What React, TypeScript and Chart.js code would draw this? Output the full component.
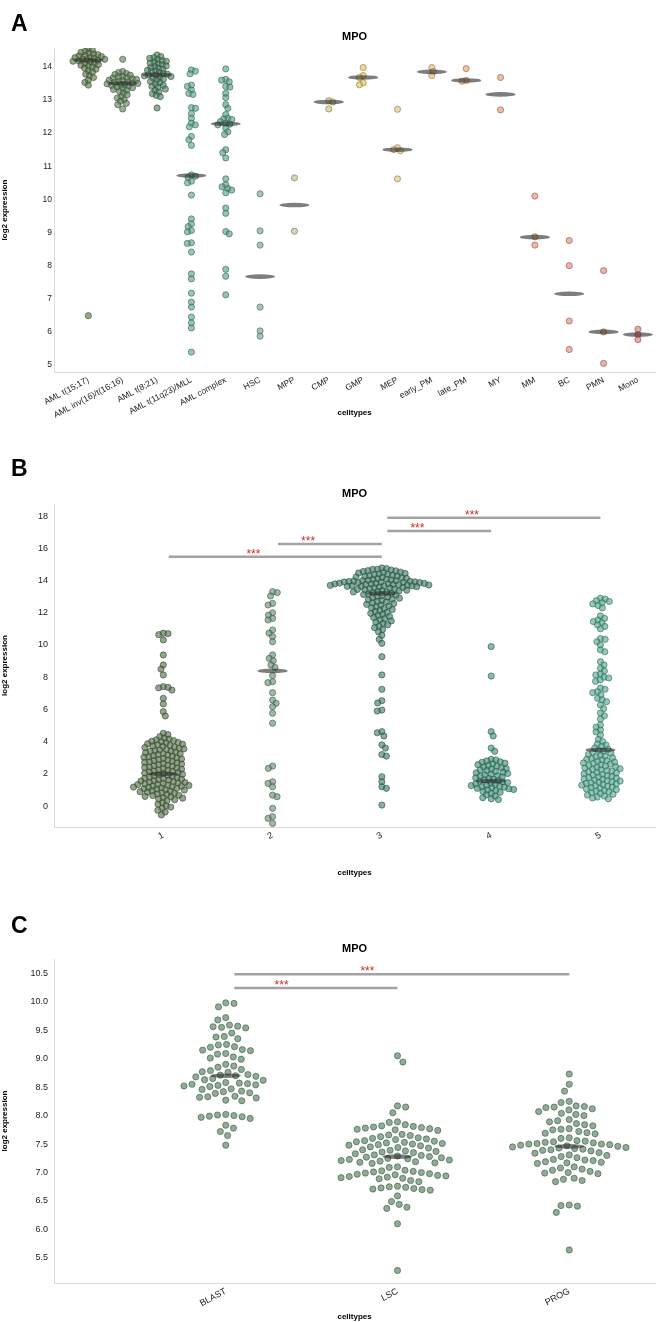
import React, { useEffect, useRef } from 'react';
import { Chart, registerables } from 'chart.js';

Chart.register(...registerables);

const FONT = '"Liberation Sans", Arial, Helvetica, sans-serif';

// ---------------- Panel A data ----------------
const A_CATEGORIES = ['AML t(15;17)', 'AML inv(16)/t(16;16)', 'AML t(8;21)', 'AML t(11q23)/MLL', 'AML complex', 'HSC', 'MPP', 'CMP', 'GMP', 'MEP', 'early_PM', 'late_PM', 'MY', 'MM', 'BC', 'PMN', 'Mono'];
const A_Y_TICKS = [5, 6, 7, 8, 9, 10, 11, 12, 13, 14];
const A_T15_17 = [14.55, 14.51, 14.47, 14.44, 14.41, 14.39, 14.37, 14.34, 14.33, 14.31, 14.29, 14.28, 14.26, 14.24, 14.23, 14.21, 14.2, 14.18, 14.17, 14.15, 14.12, 14.1, 14.07, 14.05, 14.02, 14.0, 13.96, 13.93, 13.88, 13.84, 13.78, 13.73, 13.68, 13.6, 13.53, 13.45, 6.49];
const A_INV16 = [14.23, 13.86, 13.83, 13.8, 13.77, 13.75, 13.71, 13.7, 13.67, 13.66, 13.64, 13.62, 13.6, 13.58, 13.56, 13.55, 13.53, 13.51, 13.5, 13.49, 13.47, 13.45, 13.44, 13.42, 13.39, 13.37, 13.34, 13.32, 13.29, 13.26, 13.21, 13.16, 13.1, 13.06, 13.01, 12.96, 12.9, 12.86, 12.73];
const A_T8_21 = [14.36, 14.31, 14.28, 14.26, 14.22, 14.19, 14.17, 14.14, 14.11, 14.09, 14.06, 14.03, 14.01, 13.98, 13.96, 13.93, 13.9, 13.88, 13.85, 13.83, 13.8, 13.78, 13.76, 13.75, 13.73, 13.71, 13.69, 13.66, 13.63, 13.6, 13.56, 13.52, 13.48, 13.44, 13.41, 13.38, 13.33, 13.29, 13.24, 13.19, 13.14, 13.1, 12.76];
const A_T11Q23 = [13.91, 13.87, 13.79, 13.45, 13.41, 13.3, 13.2, 13.17, 12.77, 12.75, 12.59, 12.45, 12.3, 12.25, 12.19, 11.9, 11.8, 11.63, 10.74, 10.7, 10.66, 10.55, 10.5, 10.13, 9.41, 9.26, 9.18, 9.06, 9.02, 8.69, 8.67, 8.41, 7.75, 7.6, 7.17, 6.9, 6.75, 6.45, 6.27, 6.12, 5.39];
const A_COMPLEX = [13.94, 13.62, 13.6, 13.55, 13.41, 13.39, 13.2, 13.07, 12.86, 12.75, 12.56, 12.45, 12.43, 12.41, 12.35, 12.3, 12.27, 12.25, 12.15, 12.04, 11.96, 11.5, 11.41, 11.25, 10.62, 10.44, 10.38, 10.33, 10.28, 10.2, 9.74, 9.58, 9.03, 8.96, 7.89, 7.68, 7.12];
const A_HSC = [10.17, 9.05, 8.62, 6.75, 6.03, 5.87];
const A_MPP = [10.65, 9.04];
const A_CMP = [12.98, 12.94, 12.73];
const A_GMP = [13.98, 13.74, 13.68, 13.52, 13.46];
const A_MEP = [12.72, 11.56, 11.5, 11.47, 10.62];
const A_EARLY_PM = [13.98, 13.86, 13.74];
const A_LATE_PM = [13.95, 13.59, 13.57];
const A_MY = [13.68, 12.7];
const A_MM = [10.1, 8.87, 8.62];
const A_BC = [8.76, 8.0, 6.33, 5.47];
const A_PMN = [7.85, 6.0, 5.05];
const A_MONO = [6.08, 5.92, 5.77];
const A_MEDIANS = [14.2, 13.5, 13.76, 10.72, 12.28, 7.67, 9.83, 12.94, 13.68, 11.5, 13.85, 13.59, 13.17, 8.86, 7.15, 6.0, 5.92];

// ---------------- Panel B data ----------------
const B_CATEGORIES = ['1', '2', '3', '4', '5'];
const B_Y_TICKS = [0, 2, 4, 6, 8, 10, 12, 14, 16, 18];
const B_1 = [10.73, 10.7, 10.64, 10.31, 9.38, 8.76, 8.5, 8.14, 7.41, 7.37, 7.34, 7.2, 6.69, 6.34, 5.86, 5.59,
  4.52, 4.44, 4.31, 4.22, 4.15, 4.11, 4.06, 4.02, 3.99, 3.95, 3.92, 3.87, 3.84, 3.81, 3.76, 3.73, 3.7, 3.65, 3.63, 3.58, 3.55, 3.51, 3.48, 3.44, 3.41, 3.39, 3.34, 3.31, 3.26, 3.24, 3.2, 3.16, 3.13, 3.1, 3.05, 3.03, 2.99, 2.95, 2.92, 2.88, 2.85, 2.82, 2.78, 2.74, 2.71, 2.68, 2.63, 2.61, 2.57, 2.53, 2.5, 2.47, 2.42, 2.4, 2.36, 2.32, 2.29, 2.25, 2.22, 2.18, 2.15, 2.12, 2.07, 2.05, 2.01, 1.97, 1.94, 1.9, 1.87, 1.83, 1.8, 1.76, 1.73, 1.7, 1.66, 1.64, 1.61, 1.57, 1.55, 1.52, 1.48, 1.46, 1.43, 1.4, 1.38, 1.35, 1.33, 1.3, 1.28, 1.25, 1.23, 1.2, 1.18, 1.15, 1.13, 1.1, 1.07, 1.05, 1.01, 0.99, 0.95, 0.93, 0.89, 0.86, 0.82, 0.79, 0.75, 0.72, 0.67, 0.65, 0.6, 0.57, 0.52, 0.49, 0.44, 0.39, 0.33, 0.21, 0.12, 0.02, -0.06, -0.14, -0.26, -0.37, -0.55];
const B_2 = [13.31, 13.25, 13.04, 12.58, 12.48, 12.0, 11.85, 11.65, 11.55, 10.93, 10.73, 10.52, 10.2, 9.38, 9.17, 9.02, 8.76, 8.6, 8.1, 7.72, 7.66, 7.04, 6.58, 6.38, 6.17, 5.76, 5.14, 2.48, 2.34, 1.51, 1.41, 1.2, 0.68, 0.58, -0.14, -0.66, -0.76, -1.08];
const B_3 = [14.78, 14.74, 14.7, 14.69, 14.65, 14.61, 14.6, 14.56, 14.52, 14.5, 14.47, 14.44, 14.41, 14.38, 14.36, 14.33, 14.3, 14.27, 14.25, 14.22, 14.19, 14.16, 14.14, 14.11, 14.08, 14.06, 14.03, 14.01,
  13.99, 13.98, 13.96, 13.95, 13.94, 13.92, 13.91, 13.9, 13.88, 13.87, 13.86, 13.84, 13.83, 13.82, 13.8, 13.79, 13.78, 13.76, 13.75, 13.74, 13.72, 13.71, 13.7, 13.68, 13.67, 13.66, 13.64, 13.63, 13.62, 13.6,
  13.57, 13.55, 13.52, 13.5, 13.47, 13.45, 13.42, 13.4, 13.37, 13.35, 13.32, 13.29, 13.27, 13.24, 13.21,
  13.17, 13.13, 13.1, 13.06, 13.02, 12.98, 12.93, 12.9, 12.85, 12.8, 12.76, 12.71, 12.67, 12.62, 12.57, 12.52, 12.47, 12.42, 12.37, 12.31, 12.26, 12.2, 12.14, 12.08, 12.02, 11.96, 11.9, 11.83, 11.77, 11.7, 11.63, 11.56, 11.49, 11.41, 11.33, 11.25, 11.16, 11.07, 10.96, 10.82,
  10.6, 10.35, 10.1, 9.27, 8.14, 7.25, 6.54, 6.4, 5.96, 5.9, 4.62, 4.55, 4.35, 3.8, 3.6, 3.2, 3.1, 1.82, 1.51, 1.2, 1.1, 0.06];
const B_4 = [9.9, 8.07, 4.62, 4.35, 3.6, 3.4, 2.9, 2.86, 2.8, 2.75, 2.72, 2.66, 2.62, 2.57, 2.52, 2.48, 2.43, 2.38, 2.33, 2.29, 2.24, 2.2, 2.15, 2.1, 2.06, 2.02, 1.97, 1.93, 1.88, 1.84, 1.8, 1.75, 1.71, 1.66, 1.62, 1.58, 1.54, 1.5, 1.46, 1.42, 1.38, 1.34, 1.3, 1.27, 1.23, 1.2, 1.17, 1.13, 1.1, 1.07, 1.03, 1.0, 0.95, 0.9, 0.85, 0.78, 0.7, 0.62, 0.52, 0.45, 0.4];
const B_5 = [12.9, 12.85, 12.75, 12.7, 12.62, 12.55, 12.45, 12.3, 11.8, 11.65, 11.55, 11.45, 11.38, 11.24, 11.15, 11.0, 10.4, 10.35, 10.2, 10.0, 9.7, 9.58, 8.96, 8.76, 8.55, 8.38, 8.2, 8.14, 8.0, 7.95, 7.83, 7.74, 7.33, 7.25, 7.1, 7.04, 6.9, 6.69, 6.6, 6.48, 6.27, 6.05, 5.77, 5.6, 5.4, 5.03, 4.9, 4.72, 4.6, 4.41,
  4.14, 4.0, 3.85, 3.79, 3.7, 3.6, 3.52, 3.45, 3.4, 3.33, 3.28, 3.2, 3.14, 3.1, 3.05, 3.0, 2.95, 2.9, 2.86, 2.81, 2.77, 2.73, 2.68, 2.64, 2.6, 2.56, 2.52, 2.48, 2.44, 2.4, 2.36, 2.32, 2.28, 2.24, 2.2, 2.16, 2.12, 2.08, 2.04, 2.0, 1.96, 1.92, 1.88, 1.84, 1.8, 1.77, 1.73, 1.69, 1.65, 1.62, 1.58, 1.55, 1.51, 1.47, 1.44, 1.41, 1.37, 1.33, 1.3, 1.26, 1.22, 1.18, 1.14, 1.1, 1.06, 1.02, 0.97, 0.93, 0.88, 0.83, 0.78, 0.73, 0.68, 0.62, 0.56, 0.5, 0.45];
const B_MEDIANS = [2.0, 8.39, 13.2, 1.55, 3.48];
const B_BRACKET_FROM = [0, 1, 2, 2];
const B_BRACKET_TO = [2, 2, 3, 4];
const B_BRACKET_LEVEL = [15.47, 16.27, 17.08, 17.89];
const B_BRACKET_LABEL = ['***', '***', '***', '***'];

// ---------------- Panel C data ----------------
const C_CATEGORIES = ['BLAST', 'LSC', 'PROG'];
const C_Y_TICKS = [5.5, 6.0, 6.5, 7.0, 7.5, 8.0, 8.5, 9.0, 9.5, 10.0, 10.5];
const C_BLAST = [9.98, 9.97, 9.91, 9.72, 9.68, 9.59, 9.57, 9.56, 9.55, 9.54, 9.45, 9.39, 9.38, 9.35, 9.25, 9.24, 9.21, 9.2, 9.16, 9.15, 9.14, 9.09, 9.08, 9.03, 9.01, 8.99, 8.9, 8.87, 8.85, 8.81, 8.79, 8.77, 8.76, 8.72, 8.71, 8.7, 8.69, 8.68, 8.65, 8.63, 8.62, 8.58, 8.57, 8.56, 8.55, 8.54, 8.53, 8.52, 8.51, 8.47, 8.46, 8.43, 8.42, 8.4, 8.39, 8.34, 8.33, 8.32, 8.31, 8.27, 8.26, 8.02, 8.01, 8.0, 7.99, 7.98, 7.97, 7.95, 7.83, 7.78, 7.72, 7.65, 7.48];
const C_LSC = [9.05, 8.94, 8.17, 8.15, 8.05, 7.89, 7.88, 7.84, 7.82, 7.81, 7.8, 7.79, 7.78, 7.77, 7.76, 7.75, 7.74, 7.67, 7.66, 7.65, 7.63, 7.61, 7.6, 7.59, 7.58, 7.56, 7.55, 7.54, 7.53, 7.52, 7.51, 7.5, 7.49, 7.48, 7.47, 7.45, 7.44, 7.43, 7.4, 7.39, 7.38, 7.37, 7.36, 7.35, 7.33, 7.31, 7.3, 7.29, 7.28, 7.27, 7.26, 7.25, 7.24, 7.23, 7.22, 7.21, 7.2, 7.19, 7.18, 7.17, 7.16, 7.1, 7.09, 7.04, 7.03, 7.02, 7.01, 7.0, 6.99, 6.98, 6.97, 6.96, 6.95, 6.94, 6.93, 6.92, 6.91, 6.9, 6.89, 6.86, 6.84, 6.76, 6.75, 6.74, 6.73, 6.72, 6.71, 6.7, 6.69, 6.59, 6.49, 6.44, 6.39, 6.37, 6.1, 5.28];
const C_PROG = [8.73, 8.55, 8.43, 8.25, 8.23, 8.17, 8.16, 8.15, 8.14, 8.12, 8.1, 8.07, 8.04, 8.02, 8.0, 7.93, 7.91, 7.89, 7.86, 7.84, 7.82, 7.77, 7.76, 7.75, 7.72, 7.7, 7.69, 7.68, 7.61, 7.6, 7.56, 7.55, 7.54, 7.53, 7.52, 7.51, 7.5, 7.5, 7.49, 7.48, 7.47, 7.46, 7.45, 7.44, 7.43, 7.42, 7.41, 7.4, 7.39, 7.38, 7.35, 7.34, 7.31, 7.3, 7.28, 7.26, 7.23, 7.22, 7.21, 7.19, 7.18, 7.17, 7.16, 7.1, 7.08, 7.06, 7.04, 7.02, 7.0, 6.99, 6.98, 6.9, 6.88, 6.86, 6.84, 6.43, 6.42, 6.41, 6.3, 5.64];
const C_MEDIANS = [8.7, 7.28, 7.46];
const C_BRACKET_FROM = [0, 0];
const C_BRACKET_TO = [2, 1];
const C_BRACKET_LEVEL = [10.48, 10.24];
const C_BRACKET_LABEL = ['***', '***'];

// ---------------- styles ----------------
const A_COLORS: number[][] = [
  [88, 118, 72], [92, 128, 88], [76, 126, 96], [88, 162, 138], [82, 156, 132], [112, 162, 138],
  [172, 196, 140], [202, 192, 112], [226, 196, 92], [226, 192, 122], [232, 182, 122], [228, 162, 106],
  [226, 148, 112], [226, 142, 112], [222, 136, 116], [222, 130, 116], [220, 116, 110],
];
const B_COLORS: number[][] = [[84, 112, 74], [102, 142, 112], [62, 122, 98], [62, 142, 118], [82, 166, 142]];
const C_COLORS: number[][] = [[100, 140, 108], [100, 140, 108], [100, 140, 108]];

type PanelCfg = {
  top: number;
  height: number;
  plotTop: number;
  plotBottom: number;
  titleCenter: number;
  xTitleY: number;
  categories: string[];
  series: number[][];
  medians: number[];
  colors: number[][];
  yMin: number;
  yMax: number;
  yTicks: number[];
  yDecimals: number;
  yTickSize: number;
  yTickPad: number;
  xTickSize: number;
  swarmD: number;
  alpha: number;
  from: number[];
  to: number[];
  level: number[];
  labels: string[];
};

const PANELS: PanelCfg[] = [
  {
    top: 0, height: 440, plotTop: 48, plotBottom: 372, titleCenter: 37, xTitleY: 413,
    categories: A_CATEGORIES,
    series: [A_T15_17, A_INV16, A_T8_21, A_T11Q23, A_COMPLEX, A_HSC, A_MPP, A_CMP, A_GMP, A_MEP, A_EARLY_PM, A_LATE_PM, A_MY, A_MM, A_BC, A_PMN, A_MONO],
    medians: A_MEDIANS, colors: A_COLORS, yMin: 4.79, yMax: 14.57, yTicks: A_Y_TICKS, yDecimals: 0,
    yTickSize: 8.5, yTickPad: 2, xTickSize: 8.5, swarmD: 4.2, alpha: 0.62,
    from: [], to: [], level: [], labels: [],
  },
  {
    top: 440, height: 440, plotTop: 64, plotBottom: 387, titleCenter: 54, xTitleY: 433,
    categories: B_CATEGORIES,
    series: [B_1, B_2, B_3, B_4, B_5],
    medians: B_MEDIANS, colors: B_COLORS, yMin: -1.3, yMax: 18.75, yTicks: B_Y_TICKS, yDecimals: 0,
    yTickSize: 9, yTickPad: 6, xTickSize: 9, swarmD: 4.8, alpha: 0.62,
    from: B_BRACKET_FROM, to: B_BRACKET_TO, level: B_BRACKET_LEVEL, labels: B_BRACKET_LABEL,
  },
  {
    top: 880, height: 442, plotTop: 79, plotBottom: 403, titleCenter: 69, xTitleY: 437,
    categories: C_CATEGORIES,
    series: [C_BLAST, C_LSC, C_PROG],
    medians: C_MEDIANS, colors: C_COLORS, yMin: 5.06, yMax: 10.75, yTicks: C_Y_TICKS, yDecimals: 1,
    yTickSize: 9, yTickPad: 6, xTickSize: 9, swarmD: 8.3, alpha: 0.72,
    from: C_BRACKET_FROM, to: C_BRACKET_TO, level: C_BRACKET_LEVEL, labels: C_BRACKET_LABEL,
  },
];

const WIDTH = 659;
const Y_AXIS_W = 54;

function swarm(values: number[], pxY: number, pxX: number, d: number): number[] {
  const order = values.map((_, i) => i).sort((a, b) => values[b] - values[a]);
  const placed: { x: number; y: number }[] = [];
  const res = new Array(values.length).fill(0);
  let flip = false;
  for (const i of order) {
    const y = values[i] * pxY;
    const near = placed.filter((p) => Math.abs(p.y - y) < d);
    const cands: number[] = [0];
    for (const p of near) {
      const dx = Math.sqrt(Math.max(d * d - (p.y - y) ** 2, 0)) + 0.01;
      cands.push(p.x + dx, p.x - dx);
    }
    cands.sort((a, b) => Math.abs(a) - Math.abs(b) || (flip ? b - a : a - b));
    let best = 0;
    for (const c of cands) {
      if (near.every((p) => (p.x - c) ** 2 + (p.y - y) ** 2 >= d * d - 1e-6)) {
        best = c;
        break;
      }
    }
    flip = !flip;
    placed.push({ x: best, y });
    res[i] = best / pxX;
  }
  return res;
}

const rgba = (c: number[], a: number) => `rgba(${c[0]},${c[1]},${c[2]},${a})`;
const darker = (c: number[]) => c.map((v) => Math.round(v * 0.6));

function buildConfig(p: PanelCfg): any {
  const n = p.categories.length;
  const xMin = -1;
  const xMax = n - 0.5;
  const plotH = p.plotBottom - p.plotTop;
  const pxY = plotH / (p.yMax - p.yMin);
  const pxX = (WIDTH - Y_AXIS_W) / (xMax - xMin);
  const titleFont = 11;
  const titleLH = titleFont * 1.2;
  const padTop = p.titleCenter - titleLH / 2;
  const padBottom = p.plotTop - p.titleCenter - titleLH / 2;
  const axisTitleLH = 8 * 1.2;

  const datasets = p.series.map((vals, i) => {
    const off = swarm(vals, pxY, pxX, p.swarmD);
    return {
      data: vals.map((v, k) => ({ x: i + off[k], y: v })),
      backgroundColor: rgba(p.colors[i], p.alpha),
      borderColor: rgba(darker(p.colors[i]), 0.75),
      borderWidth: 0.8,
      pointRadius: 3.1,
      pointHoverRadius: 3.1,
    };
  });

  const overlay = {
    id: 'overlay',
    afterDatasetsDraw(chart: any) {
      const { ctx, scales } = chart;
      const xs = scales.x;
      const ys = scales.y;
      ctx.save();
      p.medians.forEach((m, i) => {
        const px = xs.getPixelForValue(i);
        const py = ys.getPixelForValue(m);
        ctx.beginPath();
        ctx.ellipse(px, py, 15, 2.3, 0, 0, Math.PI * 2);
        ctx.fillStyle = 'rgba(45,45,45,0.62)';
        ctx.fill();
      });
      const catW = xs.getPixelForValue(1) - xs.getPixelForValue(0);
      p.level.forEach((lv, k) => {
        const py = ys.getPixelForValue(lv);
        const x1 = xs.getPixelForValue(p.from[k]) + 0.05 * catW;
        const x2 = xs.getPixelForValue(p.to[k]);
        ctx.beginPath();
        ctx.moveTo(x1, py);
        ctx.lineTo(x2, py);
        ctx.strokeStyle = '#a3a3a3';
        ctx.lineWidth = 2.5;
        ctx.stroke();
        ctx.fillStyle = '#cc2a2a';
        ctx.font = `12px ${FONT}`;
        ctx.textAlign = 'center';
        ctx.textBaseline = 'alphabetic';
        ctx.fillText(p.labels[k], (x1 + x2) / 2 - 0.2 * catW, py + 1);
      });
      ctx.restore();
    },
  };

  return {
    type: 'scatter',
    data: { datasets },
    options: {
      responsive: false,
      animation: false,
      events: [],
      layout: { padding: 0 },
      plugins: {
        legend: { display: false },
        tooltip: { enabled: false },
        title: {
          display: true,
          text: 'MPO',
          fullSize: false,
          color: '#000',
          font: { family: FONT, size: titleFont, weight: 'bold', lineHeight: 1.2 },
          padding: { top: padTop, bottom: padBottom },
        },
      },
      scales: {
        x: {
          type: 'linear',
          min: xMin,
          max: xMax,
          grid: { display: false, drawTicks: false },
          border: { display: true, color: '#dcdcdc', width: 1 },
          afterBuildTicks: (s: any) => {
            s.ticks = p.categories.map((_, i) => ({ value: i }));
          },
          afterFit: (s: any) => {
            s.height = p.height - p.plotBottom;
          },
          ticks: {
            autoSkip: false,
            minRotation: 28,
            maxRotation: 28,
            padding: 3,
            color: '#222',
            font: { family: FONT, size: p.xTickSize },
            callback: (v: any) => p.categories[Math.round(Number(v))] ?? '',
          },
          title: {
            display: true,
            text: 'celltypes',
            color: '#000',
            font: { family: FONT, size: 8, weight: 'bold', lineHeight: 1.2 },
            padding: { top: 0, bottom: p.height - p.xTitleY - axisTitleLH / 2 },
          },
        },
        y: {
          type: 'linear',
          min: p.yMin,
          max: p.yMax,
          grid: { display: false, drawTicks: false },
          border: { display: true, color: '#dcdcdc', width: 1 },
          afterBuildTicks: (s: any) => {
            s.ticks = p.yTicks.map((v) => ({ value: v }));
          },
          afterFit: (s: any) => {
            s.width = Y_AXIS_W;
          },
          ticks: {
            padding: p.yTickPad,
            color: '#222',
            font: { family: FONT, size: p.yTickSize },
            callback: (v: any) => Number(v).toFixed(p.yDecimals),
          },
          title: {
            display: true,
            text: 'log2 expression',
            color: '#000',
            font: { family: FONT, size: 8, weight: 'bold', lineHeight: 1.2 },
            padding: { top: 0, bottom: 0 },
          },
        },
      },
    },
    plugins: [overlay],
  };
}

function PanelChart({ cfg }: { cfg: PanelCfg }) {
  const ref = useRef<HTMLCanvasElement>(null);
  useEffect(() => {
    if (!ref.current) return;
    const chart = new Chart(ref.current, buildConfig(cfg));
    return () => chart.destroy();
  }, [cfg]);
  return (
    <canvas
      ref={ref}
      width={WIDTH}
      height={cfg.height}
      style={{ position: 'absolute', left: 0, top: cfg.top, width: WIDTH, height: cfg.height, display: 'block' }}
    />
  );
}

const LETTERS = [
  { text: 'A', top: 12 },
  { text: 'B', top: 457 },
  { text: 'C', top: 914 },
];

export default function App() {
  return (
    <div style={{ position: 'absolute', left: 0, top: 0, width: WIDTH, height: 1322, background: '#fff', overflow: 'hidden' }}>
      {PANELS.map((p, i) => (
        <PanelChart key={i} cfg={p} />
      ))}
      {LETTERS.map((l) => (
        <div
          key={l.text}
          style={{
            position: 'absolute',
            left: 11,
            top: l.top,
            fontFamily: FONT,
            fontWeight: 'bold',
            fontSize: 23,
            lineHeight: 1,
            color: '#000',
          }}
        >
          {l.text}
        </div>
      ))}
    </div>
  );
}
